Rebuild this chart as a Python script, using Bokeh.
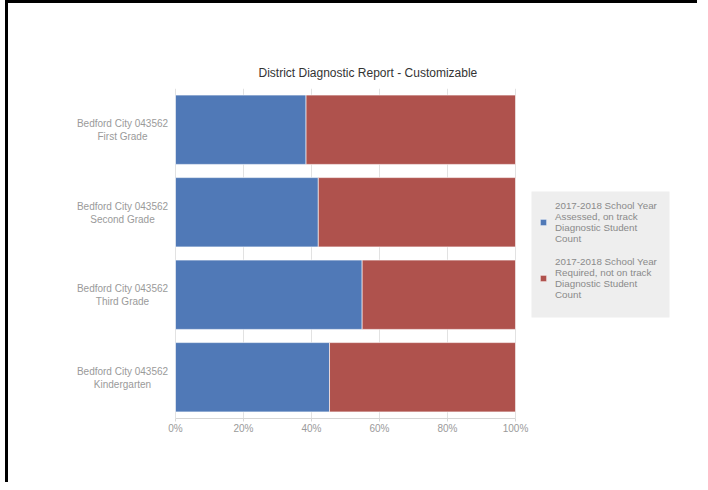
from bokeh.plotting import figure
from bokeh.models import (ColumnDataSource, FactorRange, FixedTicker, PrintfTickFormatter,
                          Title, Legend, LabelSet, BoxAnnotation)
from bokeh.core.properties import value
from bokeh.embed import file_html
from bokeh.resources import INLINE

# ---- data ----
schools = [
    "Bedford City 043562\nFirst Grade",
    "Bedford City 043562\nSecond Grade",
    "Bedford City 043562\nThird Grade",
    "Bedford City 043562\nKindergarten",
]
on_track = [38.4, 42.0, 54.9, 45.3]
not_on_track = [61.6, 58.0, 45.1, 54.7]
series_labels = [
    "2017-2018 School Year\nAssessed, on track\nDiagnostic Student\nCount",
    "2017-2018 School Year\nRequired, not on track\nDiagnostic Student\nCount",
]
x_ticks = [0, 20, 40, 60, 80, 100]
title_text = "District Diagnostic Report - Customizable"

BLUE = "#5079b7"
RED = "#af524d"
FONT = "Liberation Sans"

SHIFT_X, SHIFT_Y = 8, 3           # canvas offset (room for the black frame edge)
W, H = 692, 482
FRAME_TOP, FRAME_BOTTOM = 88, 418
X0_PX, X100_PX = 175 - SHIFT_X, 515 - SHIFT_X
PX_PER = (X100_PX - X0_PX) / 100.0

src = ColumnDataSource(dict(
    school=schools, on_track=on_track, not_on_track=not_on_track,
    line1=[s.split("\n")[0] for s in schools],
    line2=[s.split("\n")[1] for s in schools],
    zero=[0] * len(schools)))

p = figure(width=W, height=H, output_backend="svg", toolbar_location=None,
           y_range=FactorRange(factors=list(reversed(schools)), range_padding=0),
           x_range=(-X0_PX / PX_PER, (W - X0_PX) / PX_PER),
           y_axis_location=None,
           min_border_left=0, min_border_right=0,
           min_border_top=FRAME_TOP - SHIFT_Y, min_border_bottom=H - (FRAME_BOTTOM - SHIFT_Y))
p.styles = {"margin-left": "8px", "margin-top": "3px",
            "box-shadow": "-3px -3px 0px 0px black"}

rs = p.hbar_stack(["on_track", "not_on_track"], y="school", height=0.84, color=[BLUE, RED],
                  line_color="white", line_alpha=0.6, line_width=1, source=src)

p.add_layout(Title(text=title_text, align="left", offset=258 - SHIFT_X, text_font=FONT,
                   text_font_size="12px", text_font_style="normal", text_color="#333333",
                   standoff=18), "above")

p.outline_line_color = None
p.background_fill_color = "white"
p.border_fill_color = "white"

p.ygrid.grid_line_color = None
p.xgrid.grid_line_color = "#e2e2e2"
p.xgrid.ticker = FixedTicker(ticks=x_ticks)
p.xgrid.bounds = (0, 100)

p.xaxis.ticker = FixedTicker(ticks=x_ticks)
p.xaxis.bounds = (0, 100)
p.xaxis.formatter = PrintfTickFormatter(format="%d%%")
p.xaxis.axis_line_color = "#d6d6d6"
p.xaxis.major_tick_line_color = "#d6d6d6"
p.xaxis.major_tick_out = 3
p.xaxis.major_tick_in = 0
p.xaxis.minor_tick_line_color = None
p.xaxis.major_label_text_font = FONT
p.xaxis.major_label_text_font_size = "10px"
p.xaxis.major_label_text_color = "#9a9a9a"
p.xaxis.major_label_standoff = 1

for col, dy in (("line1", 6), ("line2", -7)):
    p.add_layout(LabelSet(x="zero", y="school", text=col, source=src, x_offset=-53, y_offset=dy,
                          text_align="center", text_baseline="middle", text_font=value(FONT),
                          text_font_size=value("10px"), text_color="#9a9a9a"))

# legend background panel (screen units, relative to the frame's bottom-left)
p.add_layout(BoxAnnotation(left=531 - SHIFT_X, right=669 - SHIFT_X,
                           bottom=FRAME_BOTTOM - 317, top=FRAME_BOTTOM - 191,
                           left_units="screen", right_units="screen",
                           bottom_units="screen", top_units="screen",
                           fill_color="#eeeeee", fill_alpha=1, line_color=None, level="annotation"))

lg = Legend(items=[(series_labels[0], [rs[0]]), (series_labels[1], [rs[1]])],
            location=(531 - SHIFT_X + 8, FRAME_BOTTOM - 317 + 15))
lg.background_fill_alpha = 0
lg.border_line_color = None
lg.label_text_font = FONT
lg.label_text_font_size = "9.8px"
lg.label_text_color = "#8a8a8a"
lg.label_text_line_height = 1.26
lg.label_width = 104
lg.label_height = 49
lg.glyph_width = 8
lg.glyph_height = 8
lg.label_standoff = 8
lg.padding = 10
lg.spacing = 7
lg.margin = 0
p.add_layout(lg, "center")

open("out.html", "w").write(file_html(p, INLINE))
